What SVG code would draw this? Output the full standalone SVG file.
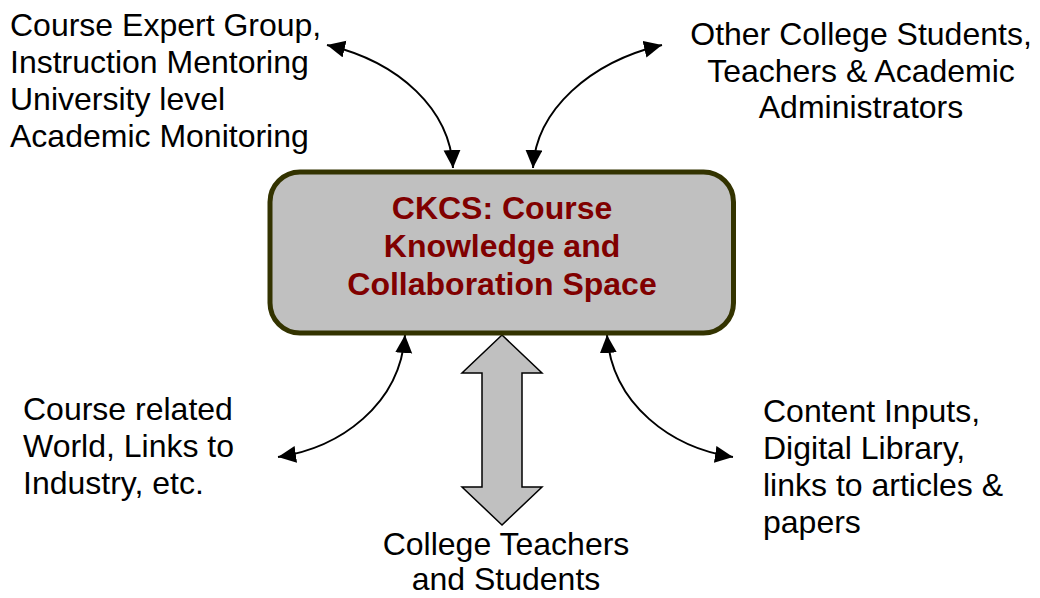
<svg xmlns="http://www.w3.org/2000/svg" width="1040" height="598" viewBox="0 0 1040 598">
<style>
.lbl{font-family:"Liberation Sans",Arial,sans-serif;font-size:32px;fill:#000}
.title{font-family:"Liberation Sans",Arial,sans-serif;font-size:32px;font-weight:bold;fill:#800000}
.conn{fill:none;stroke:#000;stroke-width:2}
</style>
<defs>
<marker id="ah" markerUnits="userSpaceOnUse" markerWidth="19" markerHeight="18" refX="18" refY="8.5" orient="auto-start-reverse" viewBox="0 0 19 18">
<path d="M0,0 L18,8.5 L0,17 z" fill="#000"/>
</marker>
</defs>
<rect width="1040" height="598" fill="#fff"/>
<g id="connectors">
<path class="conn" d="M327,45 C400,62 450,110 453,168" marker-start="url(#ah)" marker-end="url(#ah)"/>
<path class="conn" d="M662,45 C590,62 536,110 533,168" marker-start="url(#ah)" marker-end="url(#ah)"/>
<path class="conn" d="M405,335 C400,405 340,448 278,457" marker-start="url(#ah)" marker-end="url(#ah)"/>
<path class="conn" d="M607,335 C612,405 672,448 733,457" marker-start="url(#ah)" marker-end="url(#ah)"/>
<polygon points="502,335 542,373 522,373 522,487 542,487 502,525 462,487 482,487 482,373 462,373" fill="#c0c0c0" stroke="#000" stroke-width="1.5"/>
</g>
<g id="ckcs">
<rect x="270" y="172" width="463.5" height="161" rx="30" ry="30" fill="#c0c0c0" stroke="#333300" stroke-width="5"/>
<text class="title" text-anchor="middle" x="502" y="219">CKCS: Course</text>
<text class="title" text-anchor="middle" x="502" y="257">Knowledge and</text>
<text class="title" text-anchor="middle" x="502" y="294.5">Collaboration Space</text>
</g>
<g id="expert-group">
<text class="lbl" x="10" y="36">Course Expert Group,</text>
<text class="lbl" x="10" y="72.5">Instruction Mentoring</text>
<text class="lbl" x="10" y="109.5">University level</text>
<text class="lbl" x="10" y="146.5">Academic Monitoring</text>
</g>
<g id="other-college">
<text class="lbl" text-anchor="middle" x="861" y="45">Other College Students,</text>
<text class="lbl" text-anchor="middle" x="861" y="81.5">Teachers &amp; Academic</text>
<text class="lbl" text-anchor="middle" x="861" y="118">Administrators</text>
</g>
<g id="course-world">
<text class="lbl" x="23" y="420">Course related</text>
<text class="lbl" x="23" y="457">World, Links to</text>
<text class="lbl" x="23" y="494">Industry, etc.</text>
</g>
<g id="content-inputs">
<text class="lbl" x="763" y="422">Content Inputs,</text>
<text class="lbl" x="763" y="459">Digital Library,</text>
<text class="lbl" x="763" y="496">links to articles &amp;</text>
<text class="lbl" x="763" y="533">papers</text>
</g>
<g id="college-teachers">
<text class="lbl" text-anchor="middle" x="506" y="555">College Teachers</text>
<text class="lbl" text-anchor="middle" x="506" y="590">and Students</text>
</g>
</svg>
